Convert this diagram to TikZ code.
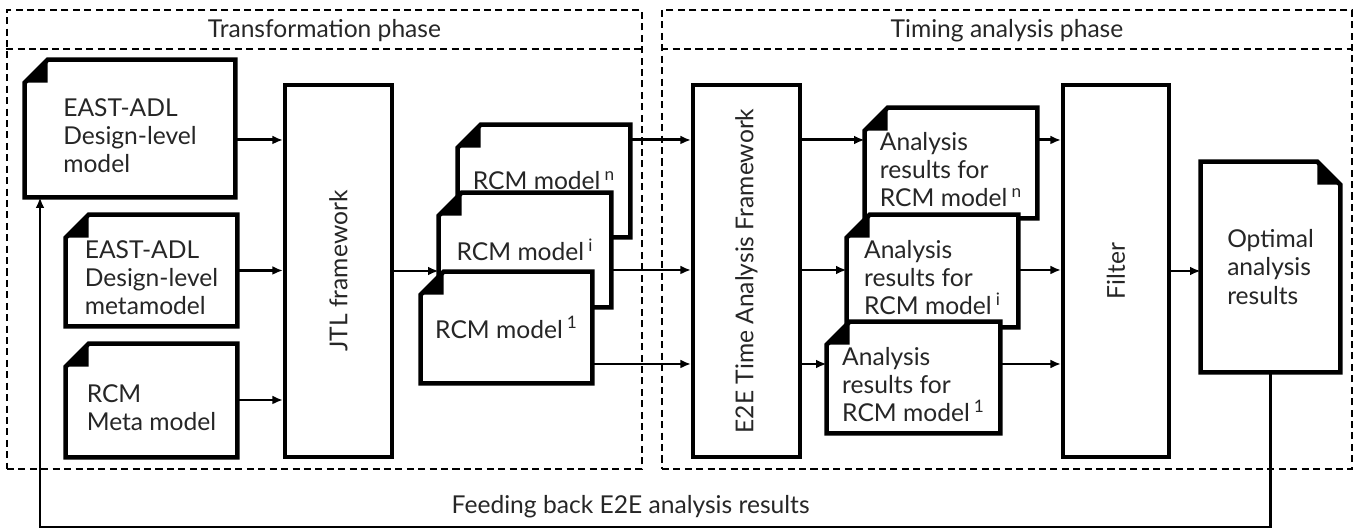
\documentclass[tikz,border=0pt]{standalone}
\usepackage{fontspec}
\setmainfont{Lato}
\usepackage{graphicx}
\usepackage{xcolor}
\usetikzlibrary{arrows.meta,backgrounds,positioning,calc}

\newcommand{\earsize}{0.46cm}
\newcommand{\padtop}{\rule{0pt}{18pt}}

\begin{document}
\begin{tikzpicture}[x=0.2mm, y=-0.2mm, >={Latex[length=6pt,width=5pt]},
    font=\fontsize{14}{16}\selectfont, text=black!85,
    box/.style={draw, line width=2.3pt, fill=white, minimum width=2.14cm, minimum height=7.44cm},
    doc/.style={align=left, inner sep=0pt},
    page/.style={draw, line width=2.6pt, fill=white, line join=miter},
    flow/.style={->, line width=1.7pt},
    panel/.style={draw, line width=0.9pt, dash pattern=on 4pt off 2.5pt}]

    \useasboundingbox (0,0) rectangle (1364,531);

    % === Phases ===
    \node[panel, minimum width=12.7cm, minimum height=9.18cm] (transpanel) at (324.5,239.5) {};
    \node (transtitle) at ([yshift=-0.42cm]transpanel.north) {Transformation phase};
    \draw[panel] ([yshift=-0.8cm]transpanel.north west) -- ([yshift=-0.8cm]transpanel.north east);

    \node[panel, minimum width=13.8cm, minimum height=9.18cm] (timingpanel) at (1007,239.5) {};
    \node (timingtitle) at ([yshift=-0.42cm]timingpanel.north) {Timing analysis phase};
    \draw[panel] ([yshift=-0.8cm]timingpanel.north west) -- ([yshift=-0.8cm]timingpanel.north east);

    % === Transformation ===
    \node[doc, minimum width=4.2cm, minimum height=2.74cm] (designmodel) at (130,128.5) {\padtop EAST-ADL\\Design-level\\model};
    \node[doc, minimum width=3.42cm, minimum height=2.22cm] (designmeta) at (151.5,270.5) {\padtop EAST-ADL\\Design-level\\metamodel};
    \node[doc, minimum width=3.42cm, minimum height=2.26cm] (rcmmeta) at (151.5,400.5) {\padtop RCM\\Meta model};

    \node[box] (jtl) at (338.5,271) {\rotatebox{90}{JTL framework}};

    % RCM models, back to front
    \node[doc, minimum width=3.44cm, minimum height=2.24cm] (rcmn) at (544,181) {RCM model\,\textsuperscript{n}};
    \node[doc, minimum width=3.44cm, minimum height=2.28cm] (rcmi) at (525,250) {RCM model\,\textsuperscript{i}};
    \node[doc, minimum width=3.42cm, minimum height=2.22cm] (rcmone) at (506.5,327.5) {RCM model\,\textsuperscript{1}};

    % === Timing analysis ===
    \node[box] (e2e) at (746.5,271) {\rotatebox{90}{E2E Time Analysis Framework}};

    \node[doc, minimum width=3.44cm, minimum height=2.2cm] (resn) at (951,163) {\padtop Analysis\\results for\\RCM model\,\textsuperscript{n}};
    \node[doc, minimum width=3.42cm, minimum height=2.24cm] (resi) at (932.5,271) {\padtop Analysis\\results for\\RCM model\,\textsuperscript{i}};
    \node[doc, minimum width=3.46cm, minimum height=2.22cm] (resone) at (913.5,377.5) {\padtop Analysis\\results for\\RCM model\,\textsuperscript{1}};

    \node[box, minimum width=2.12cm] (filter) at (1116,271) {\rotatebox{90}{Filter}};

    \node[doc, minimum width=2.78cm, minimum height=4.2cm] (optimal) at (1270.5,267) {Optimal\\analysis\\results};

    % pages with a folded corner
    \begin{scope}[on background layer]
        \foreach \d in {designmodel, designmeta, rcmmeta, rcmn, rcmi, rcmone, resn, resi, resone} {
            \draw[page] ([xshift=\earsize]\d.north west) -- (\d.north east) -- (\d.south east)
                -- (\d.south west) -- ([yshift=-\earsize]\d.north west) -- cycle;
            \fill ([xshift=\earsize]\d.north west) -- ([xshift=\earsize, yshift=-\earsize]\d.north west)
                -- ([yshift=-\earsize]\d.north west) -- cycle;
        }
        \draw[page] (optimal.north west) -- ([xshift=-\earsize]optimal.north east) -- ([yshift=-\earsize]optimal.north east)
            -- (optimal.south east) -- (optimal.south west) -- cycle;
        \fill ([xshift=-\earsize]optimal.north east) -- ([xshift=-\earsize, yshift=-\earsize]optimal.north east)
            -- ([yshift=-\earsize]optimal.north east) -- cycle;
    \end{scope}

    % === Connectors ===
    \coordinate (lanen) at (0,140);
    \coordinate (lanei) at (0,270);
    \coordinate (laneone) at (0,364);
    \coordinate (lanemeta) at (0,400);

    \draw[flow] (lanen -| designmodel.east) -- (lanen -| jtl.west);
    \draw[flow] (designmeta.east) -- (designmeta.east -| jtl.west);
    \draw[flow] (lanemeta -| rcmmeta.east) -- (lanemeta -| jtl.west);
    \draw[flow] (jtl.east) -- (jtl.east -| rcmi.west);

    \foreach \lane/\src/\res in {lanen/rcmn/resn, lanei/rcmi/resi, laneone/rcmone/resone} {
        \draw[flow] (\lane -| \src.east) -- (\lane -| e2e.west);
        \draw[flow] (\lane -| e2e.east) -- (\lane -| \res.west);
        \draw[flow] (\lane -| \res.east) -- (\lane -| filter.west);
    }

    \draw[flow] (filter.east) -- (filter.east -| optimal.west);

    % feedback loop
    \coordinate (fbturn) at (40,527);
    \draw[flow] (optimal.south) |- (fbturn) node[pos=0.76, above=1pt] {Feeding back E2E analysis results}
        -- (fbturn |- designmodel.south);

\end{tikzpicture}
\end{document}
